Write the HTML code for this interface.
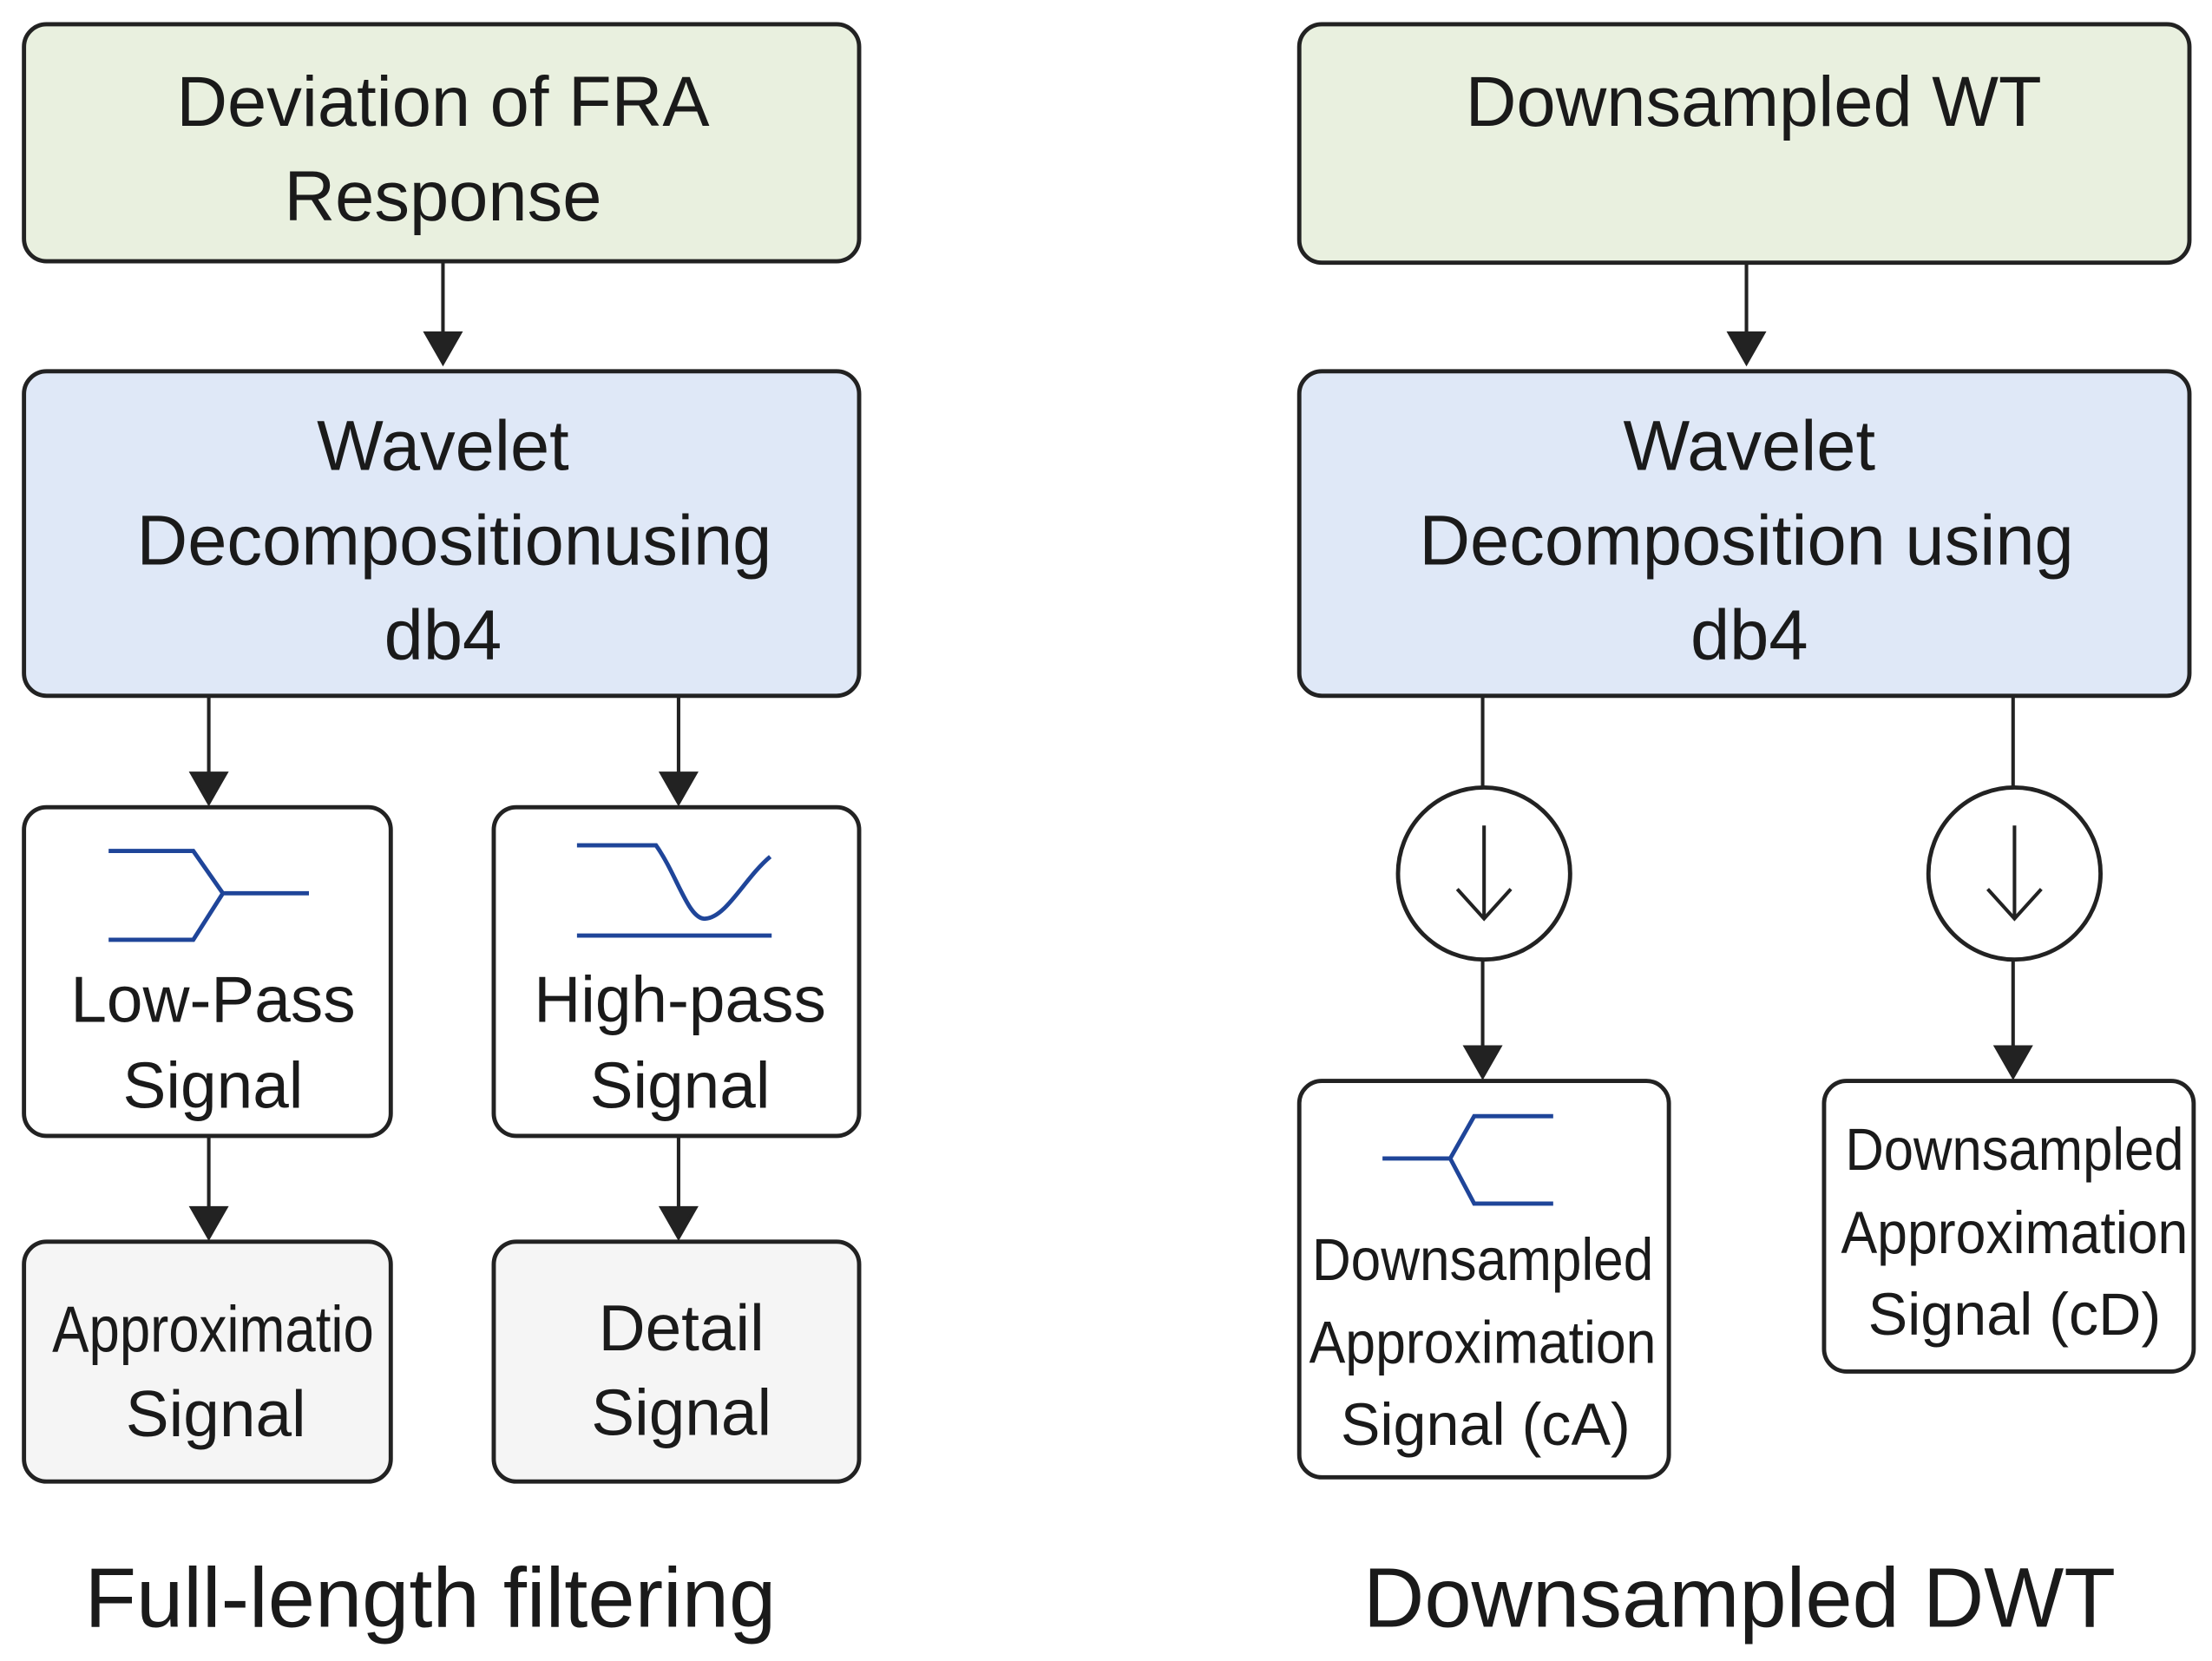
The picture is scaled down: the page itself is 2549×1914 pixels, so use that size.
<!DOCTYPE html>
<html><head><meta charset="utf-8"><style>html,body{margin:0;padding:0;background:#fff}svg{display:block}</style></head>
<body>
<svg xmlns="http://www.w3.org/2000/svg" width="2549" height="1914" viewBox="0 0 1568 1177" font-family="Liberation Sans, sans-serif" fill="#1a1a1a">
<defs><marker id="a" markerWidth="10" markerHeight="10" refX="9" refY="5" orient="auto" markerUnits="userSpaceOnUse"><path d="M0,0 L10,5 L0,10" fill="none"/></marker></defs>
<g stroke="#222" stroke-width="3">
<rect x="17" y="17" width="592" height="168" rx="16" fill="#e9f0df"/>
<rect x="17" y="263" width="592" height="230" rx="16" fill="#dfe8f7"/>
<rect x="17" y="572" width="260" height="233" rx="16" fill="#fff"/>
<rect x="350" y="572" width="259" height="233" rx="16" fill="#fff"/>
<rect x="17" y="880" width="260" height="170" rx="16" fill="#f5f5f5"/>
<rect x="350" y="880" width="259" height="170" rx="16" fill="#f5f5f5"/>
<rect x="921" y="17" width="631" height="169" rx="16" fill="#e9f0df"/>
<rect x="921" y="263" width="631" height="230" rx="16" fill="#dfe8f7"/>
<rect x="921" y="766" width="262" height="281" rx="16" fill="#fff"/>
<rect x="1293" y="766" width="262" height="206" rx="16" fill="#fff"/>
<circle cx="1052" cy="619" r="61" fill="#fff"/>
<circle cx="1428" cy="619" r="61" fill="#fff"/>
</g>
<g stroke="#222" stroke-width="2.5" fill="none">
<line x1="314" y1="186" x2="314" y2="256"/><path d="M302,236 L314,257 L326,236 Z" fill="#222"/>
<line x1="148" y1="494" x2="148" y2="568"/><path d="M136,548 L148,569 L160,548 Z" fill="#222"/>
<line x1="481" y1="494" x2="481" y2="568"/><path d="M469,548 L481,569 L493,548 Z" fill="#222"/>
<line x1="148" y1="806" x2="148" y2="876"/><path d="M136,856 L148,877 L160,856 Z" fill="#222"/>
<line x1="481" y1="806" x2="481" y2="876"/><path d="M469,856 L481,877 L493,856 Z" fill="#222"/>
<line x1="1238" y1="187" x2="1238" y2="256"/><path d="M1226,236 L1238,257 L1250,236 Z" fill="#222"/>
<line x1="1051" y1="494" x2="1051" y2="558"/>
<line x1="1427" y1="494" x2="1427" y2="558"/>
<line x1="1051" y1="680" x2="1051" y2="760"/><path d="M1039,742 L1051,763 L1063,742 Z" fill="#222"/>
<line x1="1427" y1="680" x2="1427" y2="760"/><path d="M1415,742 L1427,763 L1439,742 Z" fill="#222"/>
<line x1="1052" y1="585" x2="1052" y2="650"/><path d="M1033,630 L1052,651 L1071,630"/>
<line x1="1428" y1="585" x2="1428" y2="650"/><path d="M1409,630 L1428,651 L1447,630"/>
</g>
<g stroke="#1f4599" stroke-width="3" fill="none">
<path d="M77,603 L137,603 L158,633 L219,633 M77,666 L137,666 L158,633"/>
<path d="M409,599 L465,599 C480,620 488,652 500,651 C515,650 528,622 546,607 M409,663 L547,663"/>
<path d="M980,821 L1028,821 M1101,791 L1045,791 L1028,821 L1045,853 L1101,853"/>
</g>
<g text-anchor="middle" font-size="50">
<text x="314" y="89">Deviation of FRA</text>
<text x="314" y="156">Response</text>
<text x="314" y="333">Wavelet</text>
<text x="322" y="400">Decompositionusing</text>
<text x="314" y="467">db4</text>
<text x="1243" y="89">Downsampled WT</text>
<text x="1240" y="333">Wavelet</text>
<text x="1238" y="400">Decomposition using</text>
<text x="1240" y="467">db4</text>
</g>
<g text-anchor="middle" font-size="46" font-family="Liberation Sans Narrow, Liberation Sans, sans-serif">
<text x="151" y="724">Low-Pass</text>
<text x="151" y="785">Signal</text>
<text x="482" y="724">High-pass</text>
<text x="482" y="785">Signal</text>
<text x="151" y="958" textLength="228" lengthAdjust="spacingAndGlyphs">Approximatio</text>
<text x="153" y="1018">Signal</text>
<text x="483" y="957">Detail</text>
<text x="483" y="1017">Signal</text>
</g>
<g text-anchor="middle" font-size="42" font-family="Liberation Sans Narrow, Liberation Sans, sans-serif">
<text x="1051" y="907" textLength="242" lengthAdjust="spacingAndGlyphs">Downsampled</text>
<text x="1051" y="966" textLength="246" lengthAdjust="spacingAndGlyphs">Approximation</text>
<text x="1053" y="1024">Signal (cA)</text>
<text x="1428" y="829" textLength="240" lengthAdjust="spacingAndGlyphs">Downsampled</text>
<text x="1428" y="888" textLength="246" lengthAdjust="spacingAndGlyphs">Approximation</text>
<text x="1428" y="946">Signal (cD)</text>
</g>
<g text-anchor="middle" font-size="60">
<text x="305" y="1153">Full-length filtering</text>
<text x="1233" y="1153">Downsampled DWT</text>
</g>
</svg>
</body></html>
